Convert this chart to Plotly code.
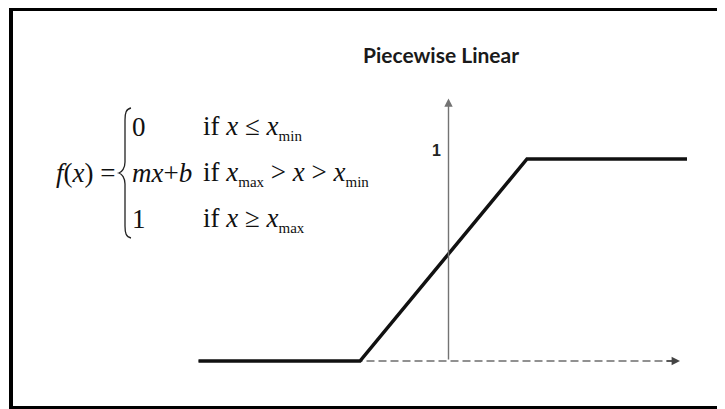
import plotly.graph_objects as go

# page body has an 8px default margin; figure sized to fit the 725x409 window
OFF = 8
W, H = 725 - OFF, 409 - OFF

# ---- data ----
curve_x = [-5.0, -1.77, 1.57, 4.77]   # piecewise linear vertices
curve_y = [0, 0, 1, 1]
axis_x_end = 4.63
axis_y_end = 1.30
tick_label = "1"
tick_label_pos = (-0.25, 1.04)
title_text = "Piecewise Linear"

SUB = "<sub><span style='font-size:15px'>{}</span></sub>"
rows_left = ["0", "<i>mx</i>+<i>b</i>", "1"]
rows_cond = [
    "if <i>x</i> ≤ <i>x</i>" + SUB.format("min"),
    "if <i>x</i>" + SUB.format("max") + " > <i>x</i> > <i>x</i>" + SUB.format("min"),
    "if <i>x</i> ≥ <i>x</i>" + SUB.format("max"),
]


def px(x):
    return (x - OFF) / W


def py(y):
    return 1 - (y - OFF) / H


# screen pixel of data origin
X0, Y0 = 448.5 - OFF, 361 - OFF
SX, SY = 50.0, 202.0

fig = go.Figure()

fig.add_trace(go.Scatter(
    x=[curve_x[0], axis_x_end - 0.1], y=[0, 0], mode="lines",
    line=dict(color="#6e6e6e", width=1.5, dash="8px,4px"),
    hoverinfo="skip", showlegend=False))

fig.add_trace(go.Scatter(
    x=curve_x, y=curve_y, mode="lines",
    line=dict(color="#111111", width=3.5),
    hoverinfo="skip", showlegend=False))

annotations = []
annotations.append(dict(x=0, y=axis_y_end, ax=0, ay=0, xref="x", yref="y",
                        axref="x", ayref="y", text="", showarrow=True,
                        arrowhead=2, arrowsize=1.2, arrowwidth=1.4,
                        arrowcolor="#737373"))
annotations.append(dict(x=axis_x_end, y=0, ax=axis_x_end - 0.3, ay=0,
                        xref="x", yref="y", axref="x", ayref="y", text="",
                        showarrow=True, arrowhead=2, arrowsize=1.2,
                        arrowwidth=1.4, arrowcolor="#444444"))
annotations.append(dict(x=tick_label_pos[0], y=tick_label_pos[1], xref="x",
                        yref="y", text="<b>" + tick_label + "</b>",
                        showarrow=False,
                        font=dict(family="Liberation Sans", size=16,
                                  color="#222222")))

serif = dict(family="Liberation Serif", size=27, color="#111111")
annotations.append(dict(x=px(117), y=py(173), xref="paper", yref="paper",
                        text="<i>f</i>(<i>x</i>) =", showarrow=False,
                        xanchor="right", yanchor="middle", font=serif))
row_y = [127, 173, 219]
for left, cond, yy in zip(rows_left, rows_cond, row_y):
    annotations.append(dict(x=px(130), y=py(yy), xref="paper", yref="paper",
                            text=left, showarrow=False, xanchor="left",
                            yanchor="middle", font=serif))
    annotations.append(dict(x=px(201), y=py(yy), xref="paper", yref="paper",
                            text=cond, showarrow=False, xanchor="left",
                            yanchor="middle", font=serif))

pts = [
    ("M", [(131, 108)]),
    ("C", [(126, 109), (125, 113), (125, 120)]),
    ("L", [(125, 162)]),
    ("C", [(125, 168), (122, 172), (119, 173)]),
    ("C", [(122, 174), (125, 178), (125, 184)]),
    ("L", [(125, 226)]),
    ("C", [(125, 233), (126, 237), (131, 238)]),
]
path = " ".join(cmd + " " + " ".join(f"{px(a):.5f},{py(b):.5f}" for a, b in p)
                for cmd, p in pts)

shapes = [
    dict(type="path", path=path, xref="paper", yref="paper",
         line=dict(color="#222222", width=1.3)),
    dict(type="rect", xref="paper", yref="paper",
         x0=px(11), x1=px(722), y0=py(408), y1=py(9),
         line=dict(color="#000000", width=4)),
]

fig.update_layout(
    width=W, height=H,
    margin=dict(l=0, r=0, t=0, b=0),
    paper_bgcolor="white", plot_bgcolor="white",
    xaxis=dict(range=[-X0 / SX, (W - X0) / SX], visible=False,
               fixedrange=True),
    yaxis=dict(range=[(Y0 - H) / SY, Y0 / SY], visible=False,
               fixedrange=True),
    title=dict(text="<b>" + title_text + "</b>", x=px(441), y=py(56),
               xanchor="center", yanchor="middle",
               font=dict(family="Lato", size=21, color="#1a1a1a")),
    annotations=annotations,
    shapes=shapes,
    showlegend=False,
)

fig.write_html("out.html", config={"displayModeBar": False})
